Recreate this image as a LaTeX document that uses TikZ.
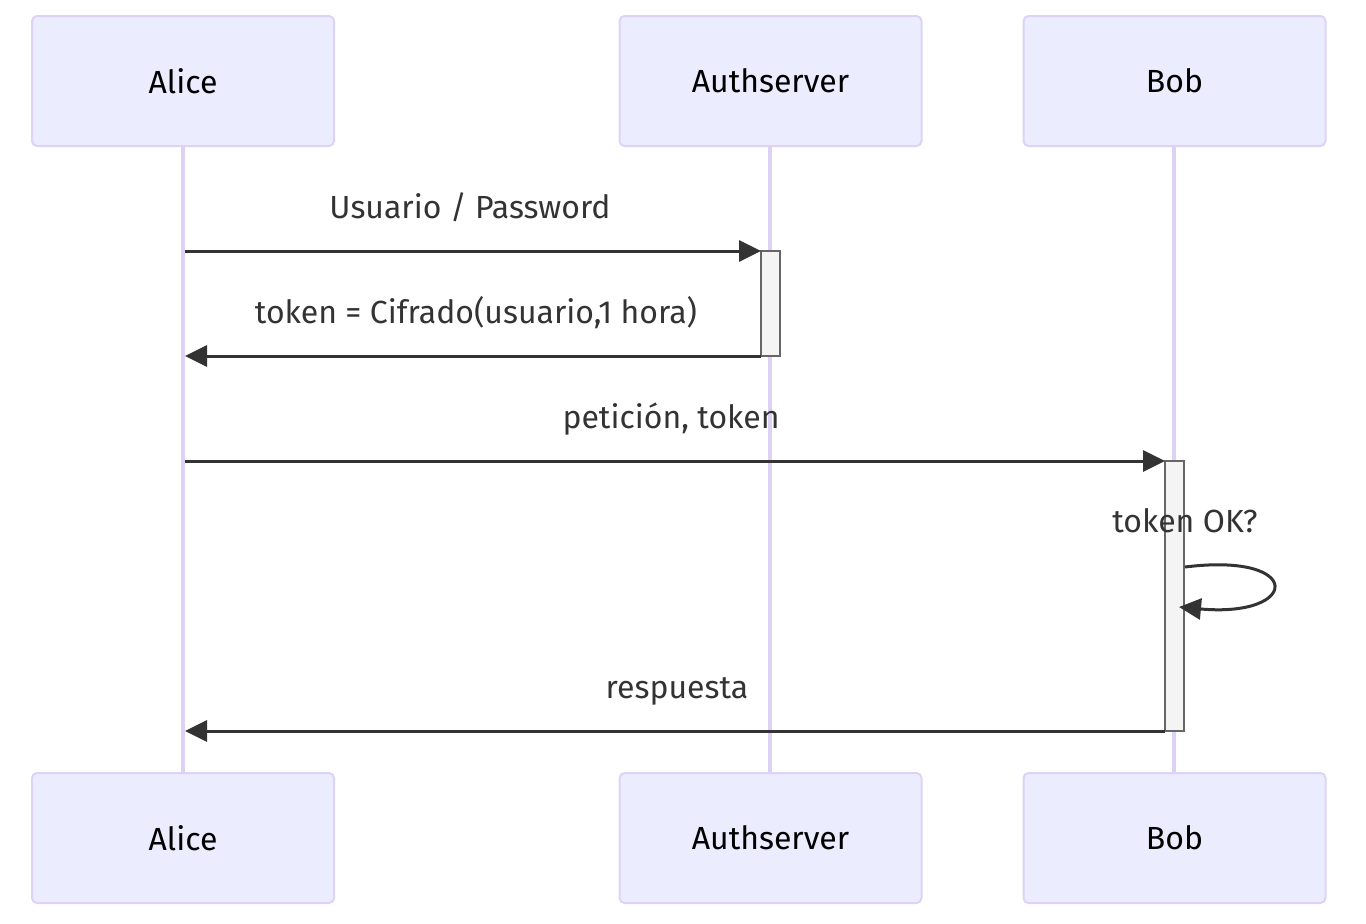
\documentclass[tikz,border=0pt]{standalone}
\usepackage{fontspec}
\setmainfont{Fira Sans}
\usetikzlibrary{arrows.meta}
\definecolor{actfill}{HTML}{ECECFF}
\definecolor{actline}{HTML}{DCD3F7}
\definecolor{lifeln}{HTML}{DDD2F5}
\definecolor{msg}{HTML}{333333}
\definecolor{actvfill}{HTML}{F4F4F4}
\definecolor{actvline}{HTML}{666666}
\tikzset{
  actor/.style={draw=actline, line width=2pt, fill=actfill, rounded corners=5pt,
    minimum width=302pt, minimum height=130pt, inner sep=0pt, font=\fontsize{32}{38}\selectfont, text=black},
  life/.style={draw=lifeln, line width=4pt},
  msgline/.style={draw=msg, line width=3pt, -{Triangle[length=22pt,width=21pt]}},
  msglabel/.style={font=\fontsize{32}{38}\selectfont, text=msg, inner sep=0pt, anchor=base},
  activ/.style={draw=actvline, line width=2pt, fill=actvfill},
}
\begin{document}
\begin{tikzpicture}[x=1pt,y=-1pt]
\useasboundingbox (0,0) rectangle (1366,924);
% lifelines
\coordinate (aT) at (183,146); \coordinate (aB) at (183,773);
\coordinate (sT) at (770,146); \coordinate (sB) at (770,773);
\coordinate (bT) at (1174,146); \coordinate (bB) at (1174,773);
\draw[life] (aT) -- (aB);
\draw[life] (sT) -- (sB);
\draw[life] (bT) -- (bB);
% actors
\node[actor] (alice) at (183,81) {Alice};
\node[actor] (auth) at (770.5,81) {Authserver};
\node[actor] (bob) at (1174.5,81) {Bob};
\node[actor] (alice2) at (183,838) {Alice};
\node[actor] (auth2) at (770.5,838) {Authserver};
\node[actor] (bob2) at (1174.5,838) {Bob};
% activations
\draw[activ] (761,251) rectangle (780,356);
\draw[activ] (1165,461) rectangle (1184,731);
% message endpoints
\coordinate (m1s) at (185,251); \coordinate (m1e) at (761,251);
\coordinate (m2s) at (761,356); \coordinate (m2e) at (185,356);
\coordinate (m3s) at (185,461); \coordinate (m3e) at (1165,461);
\coordinate (m4s) at (1185,567); \coordinate (m4e) at (1179,607);
\coordinate (m5s) at (1165,731); \coordinate (m5e) at (185,731);
\draw[msgline] (m1s) -- (m1e);
\draw[msgline] (m2s) -- (m2e);
\draw[msgline] (m3s) -- (m3e);
\draw[msgline] (m4s) .. controls (1305,552) and (1300,618) .. (m4e);
\draw[msgline] (m5s) -- (m5e);
% labels
\node[msglabel] (l1) at (470,218) {Usuario / Password};
\node[msglabel] (l2) at (476,323) {token = Cifrado(usuario,1 hora)};
\node[msglabel] (l3) at (671,428) {petición, token};
\node[msglabel] (l4) at (1185,532) {token OK?};
\node[msglabel] (l5) at (677,698) {respuesta};
\end{tikzpicture}
\end{document}
